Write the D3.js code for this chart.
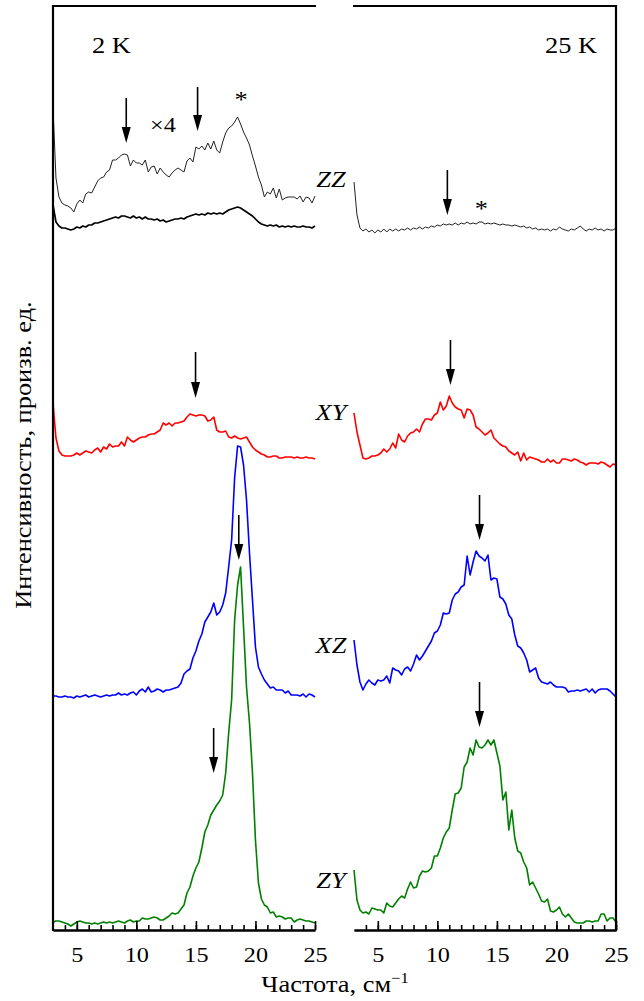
<!DOCTYPE html>
<html>
<head>
<meta charset="utf-8">
<script src="https://cdn.jsdelivr.net/npm/d3@7"></script>
<style>
  body { margin: 0; background: #fff; }
  text { font-family: "Liberation Serif", "Times New Roman", serif; fill: #000; }
</style>
</head>
<body>
<div id="main"></div>
<script>
// frequency grid: 3 .. 25 cm-1, step 0.25
var xStart = 3, xStep = 0.25;
var xMajor = [5, 10, 15, 20, 25];
var xMinor = d3.range(4, 26);

// intensities (arb. units) above each trace's own offset
var zz2kX4 = [102, 32, 13, 7, 5, 4, 2, -2, 6, 10,
  7, 16, 18, 17, 23, 29, 32, 33, 38, 40,
  50, 50, 52, 55, 56, 55, 44, 50, 47, 47,
  45, 50, 38, 43, 44, 36, 42, 38, 35, 33,
  37, 40, 42, 40, 38, 49, 52, 48, 63, 61,
  64, 60, 67, 61, 69, 60, 57, 68, 77, 82,
  84, 88, 93, 86, 78, 72, 65, 54, 44, 33,
  25, 13, 18, 16, 22, 12, 21, 10, 12, 13,
  13, 13, 11, 14, 8, 13, 12, 7, 14];
var zz2k = [25, 8, 4, 2, 2, 1, 0, 1, 3, 2,
  4, 3, 5, 5, 7, 7, 8, 9, 10, 11,
  12, 13, 12, 14, 14, 13, 12, 14, 12, 13,
  11, 13, 11, 11, 10, 11, 9, 10, 8, 9,
  10, 11, 11, 12, 11, 13, 14, 15, 16, 15,
  16, 15, 17, 16, 17, 16, 17, 16, 18, 20,
  21, 22, 23, 22, 20, 18, 16, 14, 11, 8,
  6, 5, 4, 5, 4, 5, 3, 4, 3, 4,
  3, 4, 3, 3, 4, 3, 3, 2, 4];
var zz25k = [53, 20, 7, 4, 6, 3, 5, 2, 5, 3,
  6, 3, 6, 4, 6, 4, 6, 5, 7, 5,
  7, 6, 8, 6, 8, 7, 9, 8, 10, 9,
  11, 10, 11, 10, 12, 10, 12, 11, 13, 11,
  12, 11, 13, 13, 11, 12, 11, 12, 11, 10,
  11, 10, 10, 9, 10, 9, 8, 9, 7, 8,
  6, 7, 5, 6, 5, 6, 4, 6, 5, 8,
  6, 5, 4, 6, 5, 7, 9, 6, 4, 6,
  5, 7, 5, 6, 4, 6, 5, 5, 7];
var xy2k = [57, 22, 9, 5, 4, 4, 4, 5, 7, 5,
  7, 9, 8, 7, 10, 12, 8, 13, 11, 16,
  13, 14, 14, 18, 14, 23, 20, 18, 20, 22,
  23, 23, 25, 26, 26, 28, 30, 37, 35, 37,
  34, 37, 37, 38, 39, 43, 46, 45, 44, 45,
  45, 44, 39, 40, 43, 30, 28, 28, 29, 23,
  22, 24, 22, 21, 22, 23, 18, 13, 10, 8,
  6, 5, 3, 3, 4, 4, 2, 2, 3, 3,
  3, 2, 3, 2, 2, 3, 2, 2, 1];
var xy25k = [57, 38, 25, 12, 11, 12, 14, 14, 15, 17,
  21, 18, 21, 27, 22, 36, 30, 28, 34, 37,
  38, 41, 38, 46, 51, 51, 50, 55, 57, 68,
  60, 64, 74, 67, 63, 61, 60, 52, 61, 60,
  55, 43, 41, 38, 35, 37, 40, 32, 29, 26,
  24, 23, 19, 17, 15, 18, 9, 17, 10, 13,
  12, 11, 10, 8, 8, 11, 8, 10, 7, 7,
  11, 11, 10, 9, 11, 10, 8, 7, 5, 7,
  7, 7, 6, 8, 7, 5, 3, 6, 5];
var xz2k = [4, 4, 3, 3, 4, 3, 3, 2, 4, 3,
  4, 5, 3, 4, 5, 4, 3, 4, 5, 4,
  5, 5, 7, 5, 6, 5, 7, 8, 5, 9,
  11, 8, 13, 8, 9, 11, 10, 8, 10, 10,
  11, 12, 13, 17, 26, 29, 31, 42, 49, 59,
  66, 78, 83, 88, 97, 85, 88, 95, 107, 133,
  160, 222, 254, 253, 235, 200, 147, 100, 53, 33,
  26, 20, 16, 12, 13, 10, 10, 10, 7, 9,
  5, 5, 5, 4, 6, 3, 6, 5, 3];
var xz25k = [60, 35, 18, 10, 16, 20, 17, 15, 20, 19,
  20, 24, 17, 32, 30, 29, 25, 31, 33, 29,
  36, 45, 40, 44, 49, 54, 59, 67, 69, 75,
  87, 86, 87, 100, 106, 108, 113, 115, 144, 125,
  138, 149, 144, 142, 139, 145, 120, 122, 121, 103,
  101, 96, 85, 81, 65, 54, 52, 47, 40, 28,
  30, 32, 22, 18, 17, 16, 18, 15, 13, 13,
  13, 12, 8, 9, 9, 10, 9, 10, 11, 8,
  11, 7, 10, 11, 11, 11, 9, 6, 3];
var zy2k = [3, 4, 4, 3, 2, 1, -1, 1, 3, 4,
  3, 2, 2, 1, 2, 1, 2, 3, 2, 3,
  2, 3, 4, 3, 2, 4, 5, 3, 4, 4,
  7, 6, 6, 7, 8, 7, 5, 5, 7, 9,
  12, 11, 12, 16, 20, 32, 38, 49, 57, 63,
  77, 93, 100, 110, 115, 120, 124, 130, 152, 192,
  225, 305, 340, 358, 298, 238, 202, 152, 85, 42,
  26, 20, 18, 12, 13, 8, 9, 8, 6, 7,
  7, 3, 5, 6, 5, 4, 4, 3, 2];
var zy25k = [55, 25, 15, 12, 13, 11, 17, 16, 15, 15,
  12, 22, 19, 18, 22, 26, 29, 27, 36, 43,
  37, 38, 49, 54, 53, 54, 57, 69, 69, 77,
  87, 93, 97, 115, 131, 132, 137, 158, 163, 177,
  170, 185, 178, 177, 180, 185, 180, 185, 172, 159,
  125, 133, 95, 115, 87, 74, 72, 63, 57, 40,
  43, 37, 31, 24, 23, 26, 14, 13, 15, 18,
  11, 8, 11, 7, 3, 2, 2, 2, 4, 4,
  3, 4, 4, 11, 11, 4, 7, 7, 3];

// vertical shift of each trace (arb. units)
var offsets = {zz2kX4: 720, zz2k: 700, zz25k: 695, xy2k: 470, xy25k: 460,
               xz2k: 230, xz25k: 230, zy2k: 5, zy25k: 5};

var polarizations = ["ZZ", "XY", "XZ", "ZY"];
var polLevels = [743, 510, 277, 42];
var temps = ["2 K", "25 K"];

// arrows: panel, frequency, top and tip intensity
var arrows = [
  {p: 0, x: 9.15, y0: 832, y1: 787},
  {p: 0, x: 15.14, y0: 843, y1: 799},
  {p: 0, x: 14.97, y0: 578, y1: 532},
  {p: 0, x: 18.6, y0: 415, y1: 370},
  {p: 0, x: 16.49, y0: 202, y1: 157},
  {p: 1, x: 10.84, y0: 760, y1: 715},
  {p: 1, x: 11.1, y0: 590, y1: 545},
  {p: 1, x: 13.54, y0: 435, y1: 390},
  {p: 1, x: 13.54, y0: 248, y1: 203}
];
var stars = [{p: 0, x: 18.79, y: 823}, {p: 1, x: 13.7, y: 714}];

var W = 644, H = 1001;
var svg = d3.select("#main").append("svg")
    .attr("width", W).attr("height", H);

var yTop = 6, yBottom = 930;
var yScale = d3.scaleLinear().domain([0, 924]).range([yBottom, yTop]);
var xL = d3.scaleLinear().domain([3, 25]).range([53, 315]);
var xR = d3.scaleLinear().domain([3, 25]).range([354, 616]);
var xs = [xL, xR];

// text in the original is a bit wider than Times at the same height
var sx = 1.1;
function label(x, y, str, size, anchor) {
  return svg.append("text")
      .attr("transform", "translate(" + x + "," + y + ") scale(" + sx + ",1)")
      .attr("text-anchor", anchor || "start")
      .style("font-size", size + "px")
      .text(str);
}

function trace(scale, vals, off, color, w) {
  var line = d3.line()
      .x(function(d, i) { return scale(xStart + i * xStep); })
      .y(function(d) { return yScale(off + d); });
  svg.append("path")
      .datum(vals)
      .attr("d", line)
      .attr("fill", "none")
      .attr("stroke", color)
      .attr("stroke-width", w)
      .attr("stroke-linejoin", "round");
}

trace(xL, zz2kX4, offsets.zz2kX4, "#222", 1);
trace(xL, zz2k, offsets.zz2k, "#000", 1.7);
trace(xR, zz25k, offsets.zz25k, "#222", 1);
trace(xL, xy2k, offsets.xy2k, "#ff0000", 1.6);
trace(xR, xy25k, offsets.xy25k, "#ff0000", 1.6);
trace(xL, xz2k, offsets.xz2k, "#0000ff", 1.6);
trace(xR, xz25k, offsets.xz25k, "#0000ff", 1.6);
trace(xL, zy2k, offsets.zy2k, "#008000", 1.6);
trace(xR, zy25k, offsets.zy25k, "#008000", 1.6);

// frames
xs.forEach(function(s, i) {
  svg.append("line")
      .attr("x1", s.range()[0] - 1).attr("x2", s.range()[1] + 1)
      .attr("y1", yTop).attr("y2", yTop)
      .attr("stroke", "#000").attr("stroke-width", 2.2);

  var minor = svg.append("g")
      .attr("transform", "translate(0," + yBottom + ")")
      .call(d3.axisBottom(s).tickValues(xMinor).tickSize(-5).tickSizeOuter(0).tickFormat(""));
  var major = svg.append("g")
      .attr("transform", "translate(0," + yBottom + ")")
      .call(d3.axisBottom(s).tickValues(xMajor).tickSize(-9).tickSizeOuter(0).tickPadding(16));
  [minor, major].forEach(function(g) {
    g.select(".domain").attr("stroke-width", 2.2);
    g.selectAll(".tick line").attr("stroke-width", 1.6);
  });
  major.selectAll(".tick text")
      .attr("transform", "scale(" + sx + ",1)")
      .style("font-family", "Liberation Serif")
      .style("font-size", "22px");
});
svg.append("line")
    .attr("x1", 53).attr("x2", 53).attr("y1", yTop - 1).attr("y2", yBottom + 1)
    .attr("stroke", "#000").attr("stroke-width", 2.2);
svg.append("line")
    .attr("x1", 616).attr("x2", 616).attr("y1", yTop - 1).attr("y2", yBottom + 1)
    .attr("stroke", "#000").attr("stroke-width", 2.2);

// arrows
arrows.forEach(function(a) {
  var x = xs[a.p](a.x), y0 = yScale(a.y0), y1 = yScale(a.y1);
  svg.append("line")
      .attr("x1", x).attr("x2", x).attr("y1", y0).attr("y2", y1 - 10)
      .attr("stroke", "#000").attr("stroke-width", 1.6);
  svg.append("path")
      .attr("d", "M" + (x - 4.5) + "," + (y1 - 16) + "L" + (x + 4.5) + "," + (y1 - 16) + "L" + x + "," + y1 + "Z")
      .attr("fill", "#000");
});

stars.forEach(function(s) {
  label(xs[s.p](s.x), yScale(s.y), "*", 24, "middle");
});

label(150, yScale(798), "\u00d74", 22);

label(92, 53, temps[0], 24);
label(597, 53, temps[1], 24, "end");

polarizations.forEach(function(p, i) {
  label(331, yScale(polLevels[i]), p, 24, "middle").style("font-style", "italic");
});

// axis titles
svg.append("text")
    .attr("transform", "translate(31,455) rotate(-90) scale(" + sx + ",1)")
    .attr("text-anchor", "middle")
    .style("font-size", "24px")
    .text("Интенсивность, произв. ед.");

var xt = label(335, 992, "", 24, "middle");
xt.append("tspan").text("Частота, см");
xt.append("tspan").attr("dy", -9).style("font-size", "15px").text("\u22121");
</script>
</body>
</html>
